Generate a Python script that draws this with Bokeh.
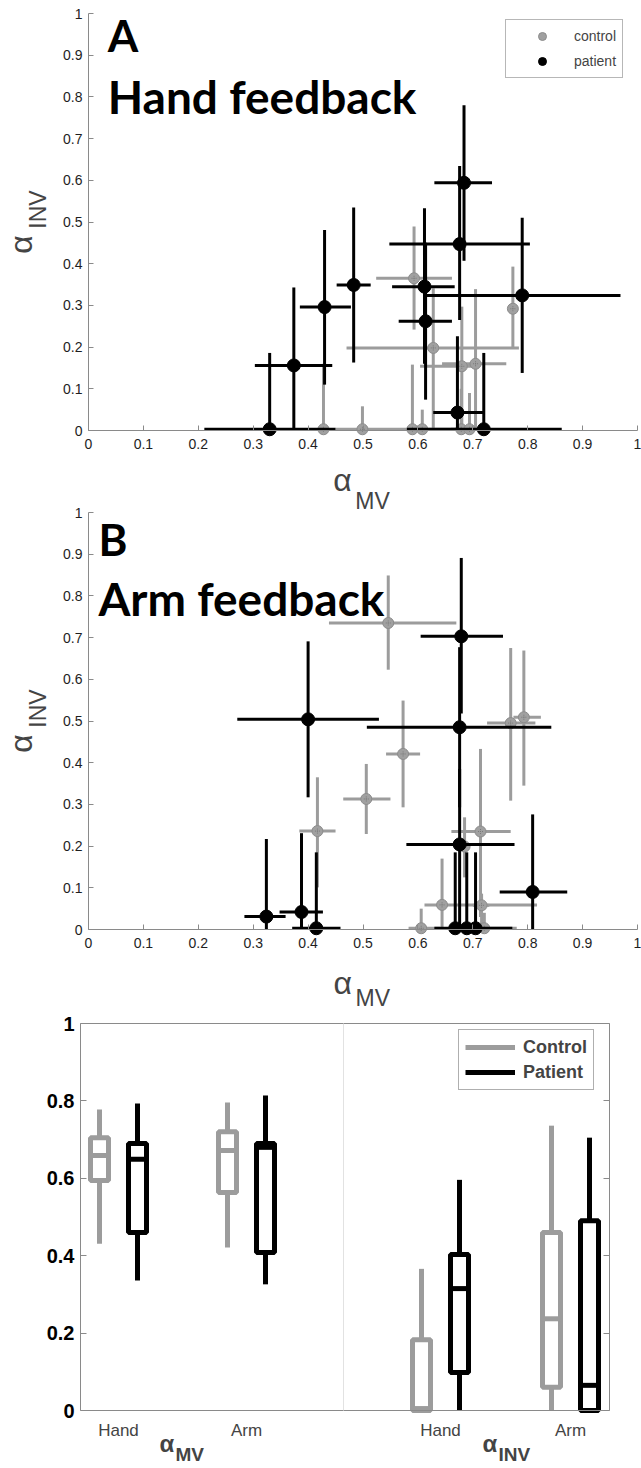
import math
from bokeh.plotting import figure
from bokeh.models import (Range1d, FixedTicker, Label, ColumnDataSource, Legend,
                          LegendItem, NumeralTickFormatter, LinearAxis)
from bokeh.layouts import column
from bokeh.embed import file_html
from bokeh.resources import INLINE

# ---------------- data ----------------
AXIS_TICKS = [0, 0.1, 0.2, 0.3, 0.4, 0.5, 0.6, 0.7, 0.8, 0.9, 1]
BOX_TICKS = [0, 0.2, 0.4, 0.6, 0.8, 1]

# Panel A (hand feedback): alpha_MV (x) vs alpha_INV (y) with error ranges
A_pat_x   = [0.684, 0.676, 0.790, 0.612, 0.614, 0.483, 0.430, 0.374, 0.330, 0.720, 0.672]
A_pat_y   = [0.594, 0.447, 0.324, 0.345, 0.262, 0.349, 0.296, 0.156, 0.003, 0.003, 0.043]
A_pat_xlo = [0.630, 0.548, 0.616, 0.553, 0.565, 0.452, 0.385, 0.303, 0.211, 0.580, 0.628]
A_pat_xhi = [0.735, 0.804, 0.969, 0.667, 0.662, 0.514, 0.478, 0.444, 0.450, 0.862, 0.720]
A_pat_ylo = [0.407, 0.265, 0.138, 0.160, 0.074, 0.163, 0.110, 0.000, 0.000, 0.000, 0.000]
A_pat_yhi = [0.780, 0.634, 0.510, 0.533, 0.450, 0.535, 0.481, 0.343, 0.186, 0.186, 0.226]

A_con_x   = [0.593, 0.628, 0.773, 0.680, 0.705, 0.428, 0.499, 0.590, 0.608, 0.679, 0.694]
A_con_y   = [0.365, 0.198, 0.292, 0.154, 0.160, 0.003, 0.003, 0.003, 0.003, 0.003, 0.003]
A_con_xlo = [0.524, 0.470, 0.765, 0.604, 0.644, 0.420, 0.490, 0.450, 0.600, 0.660, 0.685]
A_con_xhi = [0.662, 0.784, 0.781, 0.700, 0.761, 0.436, 0.505, 0.668, 0.615, 0.700, 0.705]
A_con_ylo = [0.242, 0.000, 0.198, 0.000, 0.000, 0.000, 0.000, 0.000, 0.000, 0.000, 0.000]
A_con_yhi = [0.489, 0.341, 0.393, 0.297, 0.339, 0.160, 0.058, 0.158, 0.050, 0.100, 0.090]

# Panel B (arm feedback)
B_pat_x   = [0.679, 0.676, 0.400, 0.676, 0.809, 0.324, 0.388, 0.415, 0.668, 0.689, 0.705]
B_pat_y   = [0.703, 0.485, 0.504, 0.204, 0.090, 0.031, 0.042, 0.003, 0.003, 0.003, 0.003]
B_pat_xlo = [0.605, 0.507, 0.271, 0.579, 0.749, 0.284, 0.348, 0.371, 0.630, 0.680, 0.696]
B_pat_xhi = [0.755, 0.843, 0.529, 0.776, 0.872, 0.359, 0.427, 0.459, 0.772, 0.698, 0.714]
B_pat_ylo = [0.518, 0.293, 0.317, 0.000, 0.000, 0.000, 0.000, 0.000, 0.000, 0.000, 0.000]
B_pat_yhi = [0.891, 0.677, 0.691, 0.385, 0.276, 0.217, 0.231, 0.185, 0.185, 0.185, 0.185]

B_con_x   = [0.546, 0.573, 0.506, 0.417, 0.769, 0.793, 0.714, 0.685, 0.644, 0.716, 0.606, 0.721]
B_con_y   = [0.735, 0.421, 0.313, 0.236, 0.495, 0.509, 0.235, 0.199, 0.059, 0.058, 0.003, 0.003]
B_con_xlo = [0.438, 0.542, 0.464, 0.384, 0.726, 0.774, 0.661, 0.675, 0.612, 0.700, 0.583, 0.690]
B_con_xhi = [0.670, 0.604, 0.550, 0.450, 0.814, 0.824, 0.769, 0.695, 0.817, 0.730, 0.640, 0.780]
B_con_ylo = [0.623, 0.293, 0.229, 0.101, 0.309, 0.345, 0.030, 0.125, 0.000, 0.000, 0.000, 0.000]
B_con_yhi = [0.849, 0.549, 0.397, 0.365, 0.675, 0.669, 0.433, 0.269, 0.170, 0.086, 0.050, 0.040]

# Box plot: groups (measure x feedback) and two populations
box_measures = ["MV", "MV", "INV", "INV"]
box_feedback = ["Hand", "Arm", "Hand", "Arm"]
ctrl_whi = [0.778, 0.796, 0.366, 0.736]
ctrl_q3  = [0.705, 0.720, 0.183, 0.460]
ctrl_med = [0.659, 0.672, 0.005, 0.237]
ctrl_q1  = [0.594, 0.563, 0.000, 0.060]
ctrl_wlo = [0.431, 0.421, 0.000, 0.000]
pat_whi  = [0.793, 0.814, 0.596, 0.705]
pat_q3   = [0.690, 0.690, 0.403, 0.490]
pat_med  = [0.649, 0.680, 0.315, 0.065]
pat_q1   = [0.460, 0.408, 0.098, 0.000]
pat_wlo  = [0.336, 0.326, 0.000, 0.000]

# ---------------- style / layout ----------------
GRAY = "#9c9c9c"
GRAY_DOT = "#a0a0a0"
AXIS_GRAY = "#8a8a8a"
TICK_FONT = "Liberation Sans"
TITLE_FONT = "Lato"
NARROW = "Liberation Sans Narrow, Liberation Sans"
W = 641
PX = 549.0    # pixels per unit along x in the scatter panels
PY = 417.0    # pixels per unit along y in the scatter panels
X0 = 88.0     # canvas x of alpha_MV = 0

# page geometry (canvas splits and zero lines)
A_TOP, A_H, A_ZERO = 0, 462, 430
B_TOP, B_H, B_ZERO = 462, 496, 929
C_TOP, C_H, C_ZERO = 958, 510, 1410
C_PY = 387.0
C_LEFT = 80


def base_fig(height, xr, yr):
    p = figure(width=W, height=height, x_range=Range1d(*xr), y_range=Range1d(*yr),
               output_backend="svg", toolbar_location=None,
               min_border=0, min_border_left=0, min_border_right=0,
               min_border_top=0, min_border_bottom=0)
    p.outline_line_color = None
    p.grid.visible = False
    return p


def style_axis(ax, ticks):
    ax.ticker = FixedTicker(ticks=ticks)
    ax.formatter = NumeralTickFormatter(format="0.[0]")
    ax.minor_tick_line_color = None
    ax.major_tick_in = 5
    ax.major_tick_out = 0
    ax.axis_line_color = AXIS_GRAY
    ax.major_tick_line_color = AXIS_GRAY
    ax.major_label_text_font = TICK_FONT
    ax.major_label_text_font_size = "14px"
    ax.major_label_text_color = "#1e1e1e"


def alpha_label(p, x_a, y_a, x_s, y_s, sub, angle=0.0, big="32px", small="23px",
                font=TICK_FONT, sub_font=TICK_FONT, style="normal"):
    p.add_layout(Label(x=x_a, y=y_a, text="α", text_font=font, text_font_size=big,
                       text_font_style=style, angle=angle, text_align="left",
                       text_baseline="bottom"))
    p.add_layout(Label(x=x_s, y=y_s, text=sub, text_font=sub_font, text_font_size=small,
                       text_font_style=style, angle=angle, text_align="left",
                       text_baseline="bottom"))


def scatter_panel(top, height, zero, letter, title, title_x, letter_y, title_y,
                  cx, cy, cxlo, cxhi, cylo, cyhi, px, py, pxlo, pxhi, pylo, pyhi, legend):
    y0 = zero - top
    xr = (-X0 / PX, (W - X0) / PX)
    yr = ((y0 - height) / PY, y0 / PY)
    p = base_fig(height, xr, yr)
    style_axis(p.xaxis[0], AXIS_TICKS)
    style_axis(p.yaxis[0], AXIS_TICKS)
    p.xaxis[0].fixed_location = 0
    p.yaxis[0].fixed_location = 0
    p.xaxis[0].bounds = (0, 1)
    p.yaxis[0].bounds = (0, 1)
    p.xaxis[0].major_label_standoff = 8
    p.yaxis[0].major_label_standoff = 6

    cs = ColumnDataSource(dict(x=cx, y=cy, xlo=cxlo, xhi=cxhi, ylo=cylo, yhi=cyhi))
    ps = ColumnDataSource(dict(x=px, y=py, xlo=pxlo, xhi=pxhi, ylo=pylo, yhi=pyhi))

    p.segment(x0="xlo", y0="y", x1="xhi", y1="y", source=cs, line_color=GRAY, line_width=3)
    p.segment(x0="x", y0="ylo", x1="x", y1="yhi", source=cs, line_color=GRAY, line_width=3)
    rc = p.scatter("x", "y", source=cs, size=11, fill_color=GRAY_DOT, line_color="#8c8c8c", line_width=1)
    p.scatter("x", "y", source=cs, marker="cross", size=5, line_color="#7a7a7a", line_width=1, line_dash="1 1")

    p.segment(x0="xlo", y0="y", x1="xhi", y1="y", source=ps, line_color="black", line_width=3)
    p.segment(x0="x", y0="ylo", x1="x", y1="yhi", source=ps, line_color="black", line_width=3)
    rp = p.scatter("x", "y", source=ps, size=13, fill_color="black", line_color="black")

    # panel letter and title
    p.add_layout(Label(x=title_x, y=letter_y, text=letter, text_font=TITLE_FONT,
                       text_font_style="bold", text_font_size="44px", text_color="black",
                       text_baseline="bottom"))
    p.add_layout(Label(x=title_x, y=title_y, text=title, text_font=TITLE_FONT,
                       text_font_style="bold", text_font_size="46px", text_color="black",
                       text_baseline="bottom"))

    # rotated y label alpha_INV
    alpha_label(p, -0.0893, 0.424, -0.0692, 0.484, "INV", angle=math.pi / 2)

    if legend:
        lg = Legend(items=[LegendItem(label="control", renderers=[rc]),
                           LegendItem(label="patient", renderers=[rp])],
                    location=(505, height - 78), margin=0, padding=6, glyph_width=60,
                    glyph_height=20, label_height=20, label_standoff=2, spacing=5,
                    label_text_font=TICK_FONT, label_text_font_size="14px",
                    border_line_color="#707070", border_line_width=1, background_fill_alpha=1)
        p.add_layout(lg)
    return p


pA = scatter_panel(A_TOP, A_H, A_ZERO, "A", "Hand feedback", 0.035, 0.885, 0.734,
                   A_con_x, A_con_y, A_con_xlo, A_con_xhi, A_con_ylo, A_con_yhi,
                   A_pat_x, A_pat_y, A_pat_xlo, A_pat_xhi, A_pat_ylo, A_pat_yhi, True)
pB = scatter_panel(B_TOP, B_H, B_ZERO, "B", "Arm feedback", 0.018, 0.875, 0.727,
                   B_con_x, B_con_y, B_con_xlo, B_con_xhi, B_con_ylo, B_con_yhi,
                   B_pat_x, B_pat_y, B_pat_xlo, B_pat_xhi, B_pat_ylo, B_pat_yhi, False)

# x label of panel A (alpha_MV) sits just above panel B's area -> drawn in B's coordinates
alpha_label(pB, 0.446, (B_ZERO - 497) / PY, 0.486, (B_ZERO - 513) / PY, "MV")

# ---------------- box plot ----------------
GROUP_X = [38, 166, 360, 490]   # layout positions (pixels from the frame's left edge)
FRAME_W = 529
DIVIDER = 263
OFFSET = 19
HALF = 9
c_y0 = C_ZERO - C_TOP

pC = base_fig(C_H, (-C_LEFT, W - C_LEFT), ((c_y0 - C_H) / C_PY, c_y0 / C_PY))
ax = pC.yaxis[0]
style_axis(ax, BOX_TICKS)
ax.fixed_location = 0
ax.bounds = (0, 1)
ax.major_tick_in = 6
ax.major_label_text_font = NARROW
ax.major_label_text_font_style = "bold"
ax.major_label_text_font_size = "20px"
ax.major_label_text_color = "black"
ax.major_label_standoff = 6

bx = pC.xaxis[0]
bx.fixed_location = 0
bx.bounds = (0, FRAME_W)
bx.ticker = FixedTicker(ticks=[])
bx.minor_tick_line_color = None
bx.axis_line_color = AXIS_GRAY

top_ax = LinearAxis(ticker=FixedTicker(ticks=[]), fixed_location=1, bounds=(0, FRAME_W),
                    axis_line_color=AXIS_GRAY, minor_tick_line_color=None)
pC.add_layout(top_ax, "above")
right_ax = LinearAxis(ticker=FixedTicker(ticks=[], minor_ticks=BOX_TICKS), fixed_location=FRAME_W,
                      bounds=(0, 1), axis_line_color=AXIS_GRAY, minor_tick_in=6, minor_tick_out=0,
                      minor_tick_line_color=AXIS_GRAY)
pC.add_layout(right_ax, "right")
div_ax = LinearAxis(ticker=FixedTicker(ticks=[]), fixed_location=DIVIDER, bounds=(0, 1),
                    axis_line_color="#e2e2e2", minor_tick_line_color=None)
pC.add_layout(div_ax, "left")


def draw_boxes(xs, whi, q3, med, q1, wlo, color):
    src = ColumnDataSource(dict(x=xs, whi=whi, q3=q3, med=med, q1=q1, wlo=wlo,
                                l=[v - HALF for v in xs], r=[v + HALF for v in xs]))
    w = pC.segment(x0="x", y0="q3", x1="x", y1="whi", source=src, line_color=color, line_width=5)
    pC.segment(x0="x", y0="wlo", x1="x", y1="q1", source=src, line_color=color, line_width=5)
    pC.quad(left="l", right="r", bottom="q1", top="q3", source=src, fill_color="white",
            line_color=color, line_width=5)
    pC.segment(x0="l", y0="med", x1="r", y1="med", source=src, line_color=color, line_width=5)
    return w


ctrl_x = [g - OFFSET for g in GROUP_X]
pat_x = [g + OFFSET for g in GROUP_X]
wc = draw_boxes(ctrl_x, ctrl_whi, ctrl_q3, ctrl_med, ctrl_q1, ctrl_wlo, GRAY)
wp = draw_boxes(pat_x, pat_whi, pat_q3, pat_med, pat_q1, pat_wlo, "black")

lg = Legend(items=[LegendItem(label="Control", renderers=[wc]),
                   LegendItem(label="Patient", renderers=[wp])],
            location=(458, C_H - (1090 - C_TOP)), margin=0, padding=6, glyph_width=50,
            glyph_height=22, label_height=22, label_standoff=8, spacing=3,
            label_text_font=NARROW, label_text_font_style="bold",
            label_text_font_size="18px", border_line_color="#606060", border_line_width=1,
            background_fill_alpha=1)
pC.add_layout(lg)

# x label of panel B (alpha_MV) drawn in the box plot's canvas, above its frame
alpha_label(pC, 333 - C_LEFT, (C_ZERO - 1000) / C_PY, 355 - C_LEFT, (C_ZERO - 1010) / C_PY, "MV")

for g, fb in zip(GROUP_X, box_feedback):
    pC.add_layout(Label(x=g, y=-0.052, text=fb, text_font=NARROW,
                        text_font_size="17px", text_align="center", text_baseline="middle"))

mv_x = (GROUP_X[0] + GROUP_X[1]) / 2
inv_x = (GROUP_X[2] + GROUP_X[3]) / 2
for cxp, sub in ((mv_x, box_measures[0]), (inv_x, box_measures[2])):
    alpha_label(pC, cxp - 23, (C_ZERO - 1456) / C_PY, cxp - 7, (C_ZERO - 1464) / C_PY, sub,
                big="24px", small="19px", font="Liberation Sans", sub_font=NARROW, style="bold")

layout = column(pA, pB, pC, spacing=0)
open("out.html", "w").write(file_html(layout, INLINE))
